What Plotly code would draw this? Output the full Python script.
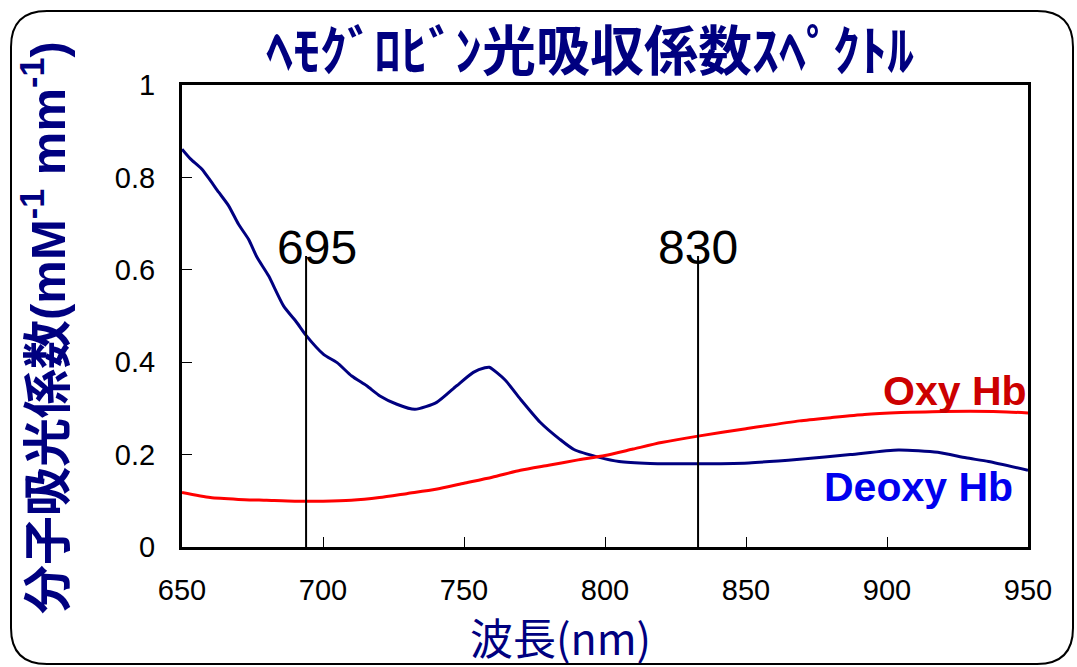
import plotly.graph_objects as go

# ---- data ----
deoxy_wl = [650, 653, 657, 663, 666.5, 670, 673.6, 676.6, 680.7, 686, 690.7, 694, 700.2, 705,
            710.2, 715.5, 720.2, 726.2, 732.6, 740.3, 747.4, 753.3, 757.4, 759, 764.5, 770, 777,
            784, 789, 798, 805, 816, 833, 851, 869, 887, 904, 918, 928, 936, 950]
deoxy_val = [0.861, 0.84, 0.818, 0.768, 0.739, 0.699, 0.666, 0.627, 0.587, 0.522, 0.486, 0.458,
             0.417, 0.399, 0.370, 0.349, 0.327, 0.309, 0.298, 0.313, 0.349, 0.378, 0.388, 0.389,
             0.362, 0.32, 0.27, 0.233, 0.211, 0.194, 0.185, 0.181, 0.18, 0.182, 0.19, 0.2, 0.21,
             0.205, 0.193, 0.185, 0.166]

oxy_wl = [650, 660, 670, 680, 690, 700, 710, 720, 730, 740, 750, 760, 770, 780, 790, 800, 810,
          820, 833, 850, 869, 880, 892, 905, 916, 940, 950]
oxy_val = [0.118, 0.107, 0.103, 0.101, 0.099, 0.099, 0.101, 0.107, 0.116, 0.125, 0.138, 0.151,
           0.166, 0.177, 0.188, 0.198, 0.212, 0.226, 0.24, 0.256, 0.273, 0.28, 0.287, 0.291,
           0.293, 0.293, 0.29]

marker_wl = [694, 833]
marker_top = [0.63, 0.63]
marker_labels = ["695", "830"]
marker_label_x = [698, 833]

x_ticks = [650, 700, 750, 800, 850, 900, 950]
y_ticks = [0, 0.2, 0.4, 0.6, 0.8, 1]

title_text = "ﾍﾓｸﾞﾛﾋﾞﾝ光吸収係数ｽﾍﾟｸﾄﾙ"
y_title = "分子吸光係数(mM<sup>-1</sup> mm<sup>-1</sup>)"
x_title = "波長(nm)"

NAVY = "#000080"
W, H = 1077, 667
ML, MR, MT, MB = 182, 49, 85, 120
PW, PH = W - ML - MR, H - MT - MB


def px(x):
    return (x - ML) / PW


def py(y):
    return (H - MB - y) / PH


fig = go.Figure()

fig.add_trace(go.Scatter(x=deoxy_wl, y=deoxy_val, mode="lines",
                         line=dict(color=NAVY, width=3, shape="spline", smoothing=0.6),
                         showlegend=False, hoverinfo="skip"))
fig.add_trace(go.Scatter(x=oxy_wl, y=oxy_val, mode="lines",
                         line=dict(color="#ff0000", width=3, shape="spline", smoothing=0.6),
                         showlegend=False, hoverinfo="skip"))

for wl, top, lab, lx in zip(marker_wl, marker_top, marker_labels, marker_label_x):
    fig.add_trace(go.Scatter(x=[wl, wl], y=[0, top], mode="lines",
                             line=dict(color="black", width=2),
                             showlegend=False, hoverinfo="skip"))
    fig.add_annotation(x=lx, y=0.587, xref="x", yref="y", text=lab, showarrow=False,
                       xanchor="center", yanchor="bottom",
                       font=dict(family="Liberation Sans, Arial", size=48, color="black"))

fig.add_annotation(x=px(1029), y=0.284, xref="paper", yref="y", text="<b>Oxy Hb</b>",
                   showarrow=False, xanchor="right", yanchor="bottom",
                   font=dict(family="Liberation Sans, Arial", size=41, color="#cc0000"))
fig.add_annotation(x=px(1015), y=0.076, xref="paper", yref="y", text="<b>Deoxy Hb</b>",
                   showarrow=False, xanchor="right", yanchor="bottom",
                   font=dict(family="Liberation Sans, Arial", size=41, color="#0000ee"))

# title
fig.add_annotation(x=px(590), y=py(47), xref="paper", yref="paper", text="<b>" + title_text + "</b>",
                   showarrow=False, xanchor="center", yanchor="middle",
                   font=dict(family="Noto Sans CJK JP", size=54, color=NAVY))
# y title
fig.add_annotation(x=px(44), y=py(328), xref="paper", yref="paper", text="<b>" + y_title + "</b>",
                   showarrow=False, xanchor="center", yanchor="middle", textangle=-90,
                   font=dict(family="Liberation Sans, Noto Sans CJK JP", size=49, color=NAVY))
# x title
fig.add_annotation(x=px(560), y=py(636), xref="paper", yref="paper", text=x_title,
                   showarrow=False, xanchor="center", yanchor="middle",
                   font=dict(family="Noto Sans CJK JP", size=43, color=NAVY))

# rounded outer frame
L, T, R, B, r = 11, 11, 1073, 664, 36
path = (f"M {px(L + r)},{py(T)} L {px(R - r)},{py(T)} Q {px(R)},{py(T)} {px(R)},{py(T + r)} "
        f"L {px(R)},{py(B - r)} Q {px(R)},{py(B)} {px(R - r)},{py(B)} "
        f"L {px(L + r)},{py(B)} Q {px(L)},{py(B)} {px(L)},{py(B - r)} "
        f"L {px(L)},{py(T + r)} Q {px(L)},{py(T)} {px(L + r)},{py(T)} Z")
fig.add_shape(type="path", path=path, xref="paper", yref="paper",
              line=dict(color="black", width=2), layer="below")

axis_font = dict(family="Liberation Sans, Arial", size=29, color="black")
fig.update_xaxes(range=[650, 950], tickvals=x_ticks, ticks="inside", ticklen=10, tickwidth=1,
                 tickcolor="black", showline=True, linewidth=3, linecolor="black", mirror=True,
                 showgrid=False, zeroline=False, tickfont=axis_font, ticklabelstandoff=15)
fig.update_yaxes(range=[0, 1], tickvals=y_ticks, ticks="inside", ticklen=10, tickwidth=1,
                 tickcolor="black", showline=True, linewidth=3, linecolor="black", mirror=True,
                 showgrid=False, zeroline=False, tickfont=axis_font, ticklabelstandoff=18)

fig.update_layout(width=W, height=H, margin=dict(l=ML, r=MR, t=MT, b=MB),
                  paper_bgcolor="white", plot_bgcolor="white", showlegend=False)

fig.write_html("out.html", config={"displayModeBar": False},
               post_script="document.body.style.margin='0';document.body.style.overflow='hidden';")
